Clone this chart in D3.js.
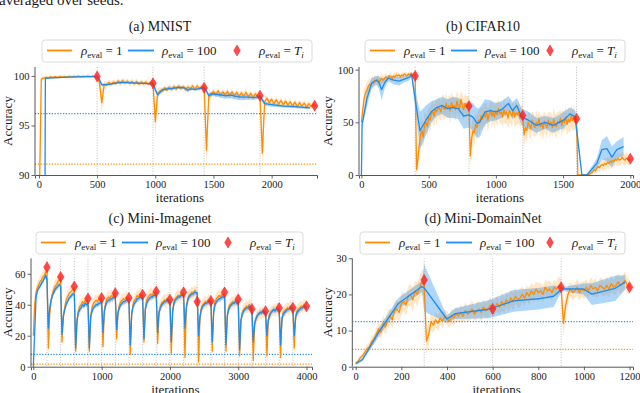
<!DOCTYPE html>
<html>
<head>
<meta charset="utf-8">
<script src="https://cdn.jsdelivr.net/npm/d3@7"></script>
<style>
body { margin: 0; background: #fff; }
</style>
</head>
<body>
<svg id="chart" width="640" height="393" font-family="Liberation Serif"></svg>
<script>
// ---------------- data ----------------

// (a) MNIST — rho_eval = 1 sampled every 20 iterations
const mnistStep = 20;
const mnistOrange = [85, 99.7,
  99.78, 99.86, 99.82, 99.9, 99.85, 99.92, 99.86, 99.94, 99.88, 99.93, 99.87, 99.95, 99.9, 99.96, 99.9, 99.97, 99.91, 99.96, 99.92, 99.98, 99.92, 99.97, 99.93,
  99.95,
  99.3, 97.3, 99.1,
  99.05, 99.35, 99.15, 99.4, 99.2, 99.5, 99.25, 99.55, 99.3, 99.5, 99.25, 99.45, 99.2, 99.45, 99.15, 99.4, 99.2, 99.4, 99.15, 99.35,
  99.3,
  95.4, 98.2, 98.5,
  98.45, 98.8, 98.55, 98.9, 98.6, 98.95, 98.65, 99.0, 98.7, 98.95, 98.6, 98.9, 98.7, 99.0, 98.65, 99.0, 98.7, 98.95,
  98.9,
  92.5, 98.0,
  98.0, 98.45, 98.1, 98.5, 98.05, 98.4, 98.1, 98.45, 98.0, 98.4, 97.95, 98.35, 97.9, 98.3, 97.95, 98.35, 97.9, 98.25, 97.85, 98.2, 97.9,
  98.0,
  92.2,
  97.4, 97.75, 97.3, 97.65, 97.2, 97.6, 97.15, 97.5, 97.1, 97.45, 97.05, 97.4, 96.95, 97.35, 96.9, 97.3, 96.95, 97.25, 96.85, 97.2, 96.9, 97.15, 96.95];
const mnistOrangeSd = [2, 0.4,
  0.15, 0.2, 0.15, 0.2, 0.15, 0.2, 0.15, 0.2, 0.15, 0.2, 0.15, 0.2, 0.15, 0.2, 0.15, 0.2, 0.15, 0.2, 0.15, 0.2, 0.15, 0.2, 0.15,
  0.2,
  0.6, 1.2, 0.4,
  0.3, 0.25, 0.3, 0.25, 0.3, 0.25, 0.3, 0.25, 0.3, 0.25, 0.3, 0.25, 0.3, 0.25, 0.3, 0.25, 0.3, 0.25, 0.3, 0.25,
  0.3,
  1.8, 0.6, 0.35,
  0.3, 0.25, 0.3, 0.25, 0.3, 0.25, 0.3, 0.25, 0.3, 0.25, 0.3, 0.25, 0.3, 0.25, 0.3, 0.25, 0.3, 0.25,
  0.3,
  2.0, 0.6,
  0.35, 0.3, 0.35, 0.3, 0.35, 0.3, 0.35, 0.3, 0.35, 0.3, 0.35, 0.3, 0.35, 0.3, 0.35, 0.3, 0.35, 0.3, 0.35, 0.3, 0.35,
  0.3,
  2.0,
  0.5, 0.35, 0.3, 0.35, 0.3, 0.35, 0.3, 0.35, 0.3, 0.35, 0.3, 0.35, 0.3, 0.35, 0.3, 0.35, 0.3, 0.35, 0.3, 0.35, 0.3, 0.35, 0.3];
// rho_eval = 100
const mnistBlueIt = [0, 50, 55, 100, 200, 300, 400, 500, 520, 540, 600, 700, 800, 900, 980,
  1000, 1020, 1060, 1100, 1150, 1200, 1250, 1280, 1300, 1350, 1400, 1430,
  1460, 1480, 1550, 1600, 1650, 1700, 1750, 1800, 1850, 1900, 1920, 1940, 2000, 2100, 2200, 2300, 2330];
const mnistBlue = [80, 80, 99.75, 99.8, 99.85, 99.9, 99.92, 99.93, 99.6, 99.1, 99.15, 99.35, 99.3, 99.25, 99.2,
  98.6, 98.1, 98.6, 98.7, 98.75, 98.85, 98.8, 98.55, 98.7, 98.65, 98.8, 98.7,
  98.0, 98.2, 98.1, 98.0, 98.05, 97.9, 97.85, 97.85, 97.8, 97.9, 97.6, 97.2, 97.1, 96.95, 96.9, 96.8, 96.8];
const mnistBlueSd = [0, 0, 0.08, 0.05, 0.05, 0.05, 0.05, 0.05, 0.2, 0.15, 0.12, 0.1, 0.1, 0.1, 0.1,
  0.3, 0.2, 0.2, 0.15, 0.15, 0.15, 0.15, 0.2, 0.15, 0.15, 0.15, 0.15,
  0.25, 0.2, 0.25, 0.3, 0.3, 0.3, 0.3, 0.25, 0.2, 0.2, 0.25, 0.2, 0.2, 0.15, 0.15, 0.15, 0.15];
const mnistTaskEnds = [500, 980, 1420, 1900, 2370];
const mnistTaskEval = [99.95, 99.25, 98.8, 98.0, 97.0];
const mnistBounds = [500, 980, 1420, 1900];
const mnistBaseBlue = 96.2, mnistBaseOrange = 91.1;

// (b) CIFAR10 — rho_eval = 1 sampled every 10 iterations
const cifarStep = 10;
const cifarOrange = [50, 62, 72, 78, 80, 84, 86, 85, 88, 87, 90, 89, 91, 88, 90, 92, 90, 91, 93, 92,
  92, 94, 93, 92, 94, 93, 95, 94, 95, 93, 95, 94, 96, 95, 94, 96, 95, 96, 95, 96, 95,
  5, 15, 28, 38, 42, 36, 48, 50, 46, 55, 52, 58, 60, 56, 62, 60, 64, 63, 60, 66,
  64, 62, 68, 63, 66, 61, 69, 64, 66, 62, 70, 65, 63, 72, 66, 62, 68, 64, 67, 65,
  18, 35, 42, 40, 48, 45, 52, 50, 56, 53, 58, 55, 60, 52, 57, 62, 56, 60, 55, 61,
  57, 63, 58, 60, 55, 62, 57, 60, 54, 61, 58, 56, 62, 55, 59, 57, 60, 54, 58, 56,
  38, 45, 42, 50, 47, 44, 52, 48, 45, 50, 47, 53, 46, 49, 44, 51, 48, 45, 52, 47,
  50, 45, 53, 48, 46, 51, 49, 54, 47, 52, 50, 55, 48, 53, 50, 56, 52, 55, 50, 53,
  0, 0, 0, 0, 0, 0, 0, 0.5, 0, 1, 2, 3, 5, 4, 6, 8, 7, 9, 10, 9,
  11, 10, 12, 11, 13, 12, 14, 13, 15, 14, 16, 14, 15, 17, 15, 14, 16, 15, 14, 15];
const cifarOrangeSd = [4, 8, 9, 7, 8, 6, 7, 5, 6, 5, 5, 4, 5, 4, 4, 5, 3, 4, 3, 4,
  3, 3, 4, 3, 3, 4, 2.5, 3, 2.5, 3, 2.5, 3, 2, 3, 2.5, 2, 3, 2, 2.5, 2, 3,
  6, 10, 12, 11, 13, 10, 12, 9, 11, 10, 12, 9, 11, 10, 8, 12, 9, 11, 8, 10,
  12, 9, 11, 8, 10, 13, 9, 11, 8, 12, 10, 9, 11, 8, 12, 10, 9, 11, 8, 10,
  10, 14, 12, 13, 11, 12, 10, 12, 9, 11, 10, 12, 9, 11, 10, 8, 12, 9, 11, 10,
  12, 9, 10, 11, 8, 12, 9, 11, 10, 12, 9, 11, 8, 10, 12, 9, 11, 10, 9, 10,
  12, 10, 11, 9, 12, 10, 8, 11, 9, 12, 10, 8, 11, 9, 12, 10, 9, 11, 8, 12,
  10, 9, 11, 10, 12, 9, 11, 8, 12, 10, 9, 11, 10, 12, 9, 11, 10, 12, 9, 10,
  1, 0.5, 0.5, 0.5, 0.5, 0.5, 0.5, 1, 0.5, 1, 1.5, 2, 3, 3, 4, 4, 5, 4, 5, 6,
  5, 6, 5, 6, 5, 6, 5, 6, 5, 6, 6, 5, 6, 5, 6, 5, 6, 5, 5, 6];
const cifarBlueIt = [0, 5, 40, 75, 110, 130, 150, 175, 200, 240, 280, 320, 360, 372,
  435, 480, 520, 560, 600, 640, 680, 720, 760, 800, 830, 860, 880, 920, 960, 1000,
  1043, 1093, 1125, 1155, 1192, 1242, 1304, 1366, 1428, 1470, 1503, 1552, 1590,
  1640, 1677, 1751, 1788, 1826, 1863, 1900, 1950];
const cifarBlue = [0, 48, 72, 87, 90, 88, 81, 88, 92, 90, 89, 91, 93, 96,
  42, 52, 60, 64, 66, 63, 64, 63, 56, 57, 55, 49, 50, 60, 61, 60,
  62, 68, 61, 66, 55, 52, 47, 50, 47, 50, 52, 58, 55,
  0, 0, 11, 24, 25, 17, 24, 27];
const cifarBlueSd = [0, 3, 8, 5, 4, 6, 10, 5, 3, 4, 4, 3, 3, 2,
  18, 14, 10, 8, 8, 9, 10, 10, 12, 12, 13, 14, 14, 12, 10, 8,
  8, 7, 8, 7, 8, 8, 7, 6, 7, 7, 8, 6, 6,
  1, 1, 5, 9, 12, 10, 8, 9];
const cifarTaskEnds = [400, 800, 1200, 1600, 2000];
const cifarTaskEval = [94, 65.5, 56.5, 53.5, 15.5];
const cifarBounds = [400, 800, 1200, 1600];

// (c) Mini-Imagenet — both curves sampled every 20 iterations
const imgStep = 20;
const imgOrange = [20,
  40, 48, 51, 53, 55, 56, 58, 59, 61, 62,
  12, 34, 42, 47, 50, 52, 53, 55, 56, 57,
  16, 32, 38, 43, 45, 47, 48, 49, 50, 51,
  10, 30, 36, 39, 40, 42, 41, 43, 42, 43,
  10, 33, 38, 41, 42, 43, 42, 44, 43, 44,
  13, 36, 41, 44, 45, 44, 46, 45, 47, 47,
  18, 35, 40, 42, 43, 44, 43, 45, 44, 44,
  8, 34, 40, 43, 44, 46, 45, 47, 46, 46,
  16, 38, 43, 45, 46, 47, 46, 48, 47, 48,
  15, 35, 39, 41, 42, 43, 42, 44, 43, 43,
  8, 36, 42, 44, 45, 46, 45, 47, 46, 47,
  6, 38, 44, 46, 47, 48, 47, 49, 48, 48,
  3, 32, 38, 40, 41, 42, 41, 43, 42, 43,
  10, 36, 42, 44, 45, 46, 45, 47, 46, 47,
  10, 33, 38, 40, 41, 42, 41, 43, 42, 43,
  7, 30, 35, 37, 38, 39, 38, 40, 39, 38,
  4, 27, 31, 33, 34, 35, 34, 36, 35, 36,
  7, 30, 34, 35, 36, 37, 36, 38, 37, 37,
  6, 31, 35, 36, 37, 38, 37, 39, 38, 38,
  12, 32, 36, 37, 38, 39, 38, 40, 39, 39];
const imgOrangeSd = [2,
  5, 4, 4, 3.5, 4, 3.5, 4, 3.5, 4, 4,
  7, 5, 4, 4, 3.5, 4, 4, 3.5, 4, 4,
  6, 5, 4, 3.5, 4, 3.5, 4, 4, 3.5, 4,
  7, 5, 4, 4, 3.5, 4, 3.5, 4, 4, 3.5,
  6, 5, 4, 3.5, 4, 4, 3.5, 4, 3.5, 4,
  7, 5, 4, 4, 3.5, 4, 4, 3.5, 4, 4,
  6, 5, 4, 3.5, 4, 3.5, 4, 4, 3.5, 4,
  7, 5, 4, 4, 3.5, 4, 3.5, 4, 4, 3.5,
  6, 5, 4, 3.5, 4, 4, 3.5, 4, 3.5, 4,
  7, 5, 4, 4, 3.5, 4, 4, 3.5, 4, 4,
  6, 5, 4, 3.5, 4, 3.5, 4, 4, 3.5, 4,
  7, 5, 4, 4, 3.5, 4, 3.5, 4, 4, 3.5,
  6, 5, 4, 3.5, 4, 4, 3.5, 4, 3.5, 4,
  7, 5, 4, 4, 3.5, 4, 4, 3.5, 4, 4,
  6, 5, 4, 3.5, 4, 3.5, 4, 4, 3.5, 4,
  7, 5, 4, 4, 3.5, 4, 3.5, 4, 4, 3.5,
  6, 5, 4, 3.5, 4, 4, 3.5, 4, 3.5, 4,
  7, 5, 4, 4, 3.5, 4, 4, 3.5, 4, 4,
  6, 5, 4, 3.5, 4, 3.5, 4, 4, 3.5, 4,
  7, 5, 4, 4, 3.5, 4, 3.5, 4, 4, 3.5];
const imgBlue = [0,
  22, 45, 49, 51, 52, 54, 55, 57, 59, 56,
  25, 38, 43, 46, 48, 50, 51, 52, 53, 52,
  21, 33, 37, 40, 42, 44, 45, 46, 47, 47,
  12, 30, 35, 37, 38, 40, 39, 41, 40, 41,
  12, 32, 36, 38, 39, 40, 40, 41, 41, 42,
  22, 36, 40, 42, 43, 43, 44, 44, 45, 45,
  24, 35, 38, 40, 41, 42, 42, 43, 43, 42,
  14, 34, 39, 41, 42, 44, 44, 45, 45, 44,
  18, 37, 41, 43, 44, 45, 45, 46, 46, 46,
  22, 35, 38, 40, 41, 42, 42, 43, 42, 42,
  16, 36, 41, 43, 44, 45, 45, 46, 46, 46,
  25, 38, 43, 45, 46, 47, 47, 48, 48, 47,
  20, 32, 37, 39, 40, 41, 41, 42, 42, 42,
  16, 35, 40, 42, 43, 44, 44, 45, 45, 45,
  14, 33, 37, 39, 40, 41, 41, 42, 41, 41,
  11, 30, 34, 36, 37, 38, 38, 39, 38, 37,
  16, 28, 31, 33, 34, 35, 35, 36, 35, 35,
  20, 30, 33, 35, 36, 37, 36, 37, 37, 37,
  14, 31, 34, 35, 36, 37, 37, 38, 38, 37,
  20, 32, 35, 36, 37, 38, 38, 39, 39, 38];
const imgBlueSd = [0,
  2, 2.5, 2, 1.5, 1.5, 1.5, 1.5, 1.5, 2, 2,
  4, 2.5, 2, 2, 1.5, 2, 1.5, 2, 1.5, 1.5,
  4, 2.5, 2, 2, 1.5, 2, 1.5, 2, 1.5, 1.5,
  4, 2.5, 2, 2, 1.5, 2, 1.5, 2, 1.5, 1.5,
  4, 2.5, 2, 2, 1.5, 2, 1.5, 2, 1.5, 1.5,
  4, 2.5, 2, 2, 1.5, 2, 1.5, 2, 1.5, 1.5,
  4, 2.5, 2, 2, 1.5, 2, 1.5, 2, 1.5, 1.5,
  4, 2.5, 2, 2, 1.5, 2, 1.5, 2, 1.5, 1.5,
  4, 2.5, 2, 2, 1.5, 2, 1.5, 2, 1.5, 1.5,
  4, 2.5, 2, 2, 1.5, 2, 1.5, 2, 1.5, 1.5,
  4, 2.5, 2, 2, 1.5, 2, 1.5, 2, 1.5, 1.5,
  4, 2.5, 2, 2, 1.5, 2, 1.5, 2, 1.5, 1.5,
  4, 2.5, 2, 2, 1.5, 2, 1.5, 2, 1.5, 1.5,
  4, 2.5, 2, 2, 1.5, 2, 1.5, 2, 1.5, 1.5,
  4, 2.5, 2, 2, 1.5, 2, 1.5, 2, 1.5, 1.5,
  4, 2.5, 2, 2, 1.5, 2, 1.5, 2, 1.5, 1.5,
  4, 2.5, 2, 2, 1.5, 2, 1.5, 2, 1.5, 1.5,
  4, 2.5, 2, 2, 1.5, 2, 1.5, 2, 1.5, 1.5,
  4, 2.5, 2, 2, 1.5, 2, 1.5, 2, 1.5, 1.5,
  4, 2.5, 2, 2, 1.5, 2, 1.5, 2, 1.5, 1.5];
const imgTaskEnds = [200, 400, 600, 800, 1000, 1200, 1400, 1600, 1800, 2000,
  2200, 2400, 2600, 2800, 3000, 3200, 3400, 3600, 3800, 4000];
const imgTaskEval = [64.3, 58, 51.8, 44, 44.4, 47.4, 44.4, 46.5, 48.5, 43.3,
  48, 42, 42.5, 48, 43.5, 37.3, 35.8, 37.9, 38, 39];
const imgBounds = [200, 400, 600, 800, 1000, 1200, 1400, 1600, 1800, 2000,
  2200, 2400, 2600, 2800, 3000, 3200, 3400, 3600, 3800];
const imgBaseBlue = 8.0, imgBaseOrange = 1.7;

// (d) Mini-DomainNet — rho_eval = 1 sampled every 10 iterations
const domStep = 10;
const domOrange = [1, 1.5, 2.5, 3, 4, 5, 5.5, 7, 7.5, 9, 10.5, 9.5, 12, 11, 13, 14, 13, 15.5, 16, 15,
  17.5, 18, 17, 19.5, 20, 18.5, 21, 20, 22, 23.5, 22.5,
  7, 9, 12.5, 11.5, 13, 12, 13.5, 12.5, 14, 13.5, 12.5, 14, 13.5, 14.5, 14, 15, 14, 15.5, 14.5, 15,
  16, 14.5, 15.5, 16, 15, 16.5, 15.5, 16, 17, 16,
  16.5, 17.5, 16.5, 18, 17, 18.5, 17.5, 19, 18, 19.5, 18.5, 19, 20, 19, 20.5, 19.5, 21, 20, 21.5, 20.5,
  21, 20, 22, 21, 21.5, 20.5, 22, 21.5, 22.5, 22,
  12, 17, 20, 21.5, 20.5, 21, 22, 20.5, 21.5, 21, 22, 21, 22.5, 21.5, 22, 21, 22.5, 22, 21.5, 22.5,
  21.5, 23, 22, 22.5, 23.5, 22.5, 23, 24, 22.5, 22];
const domOrangeSd = [0.3, 0.5, 0.6, 0.8, 1, 1.2, 1.2, 1.5, 1.5, 1.8, 2, 1.8, 2.2, 2, 2.5, 2.2, 2.5, 2.8, 2.5, 2.8,
  3, 2.6, 3, 2.8, 3, 3.2, 2.8, 3.4, 3, 3.5, 3,
  3.5, 3, 2.5, 2.2, 2, 2.2, 1.8, 2, 1.8, 2, 1.8, 2, 2.2, 2, 1.8, 2.2, 2, 2.4, 2, 2.2,
  2.5, 2, 2.4, 2.2, 2.5, 2.2, 2, 2.4, 2.2, 2,
  2, 2.2, 2, 2.5, 2.2, 2, 2.4, 2.2, 2.5, 2, 2.2, 2.6, 2.2, 2.4, 2, 2.5, 2.2, 2.4, 2, 2.6,
  2.2, 2.4, 2, 2.5, 2.2, 2.4, 2, 2.2, 2.5, 2.2,
  3.5, 3, 2.5, 2, 2.2, 2, 2.4, 2.2, 2, 2.5, 2.2, 2, 2.4, 2.2, 2.5, 2, 2.2, 2.4, 2, 2.5,
  2.2, 2.4, 2, 2.6, 2.2, 2.4, 2, 2.5, 2.2, 2];
const domBlueIt = [0, 30, 100, 187, 290, 300, 399, 436, 582, 691, 800, 867, 903, 998, 1035, 1137, 1181];
const domBlue = [0.8, 2, 9.5, 17.5, 22.2, 21.8, 13.2, 14.7, 15.9, 18.2, 18.8, 19.5, 21.5, 21.5, 20.1, 21.7, 23.4];
const domBlueSd = [0.3, 0.5, 1.2, 1.5, 1.5, 6.5, 1, 1.5, 2.5, 3, 3, 3, 0.5, 1.5, 3, 3.5, 2];
const domTaskEnds = [300, 600, 900, 1200];
const domTaskEval = [24, 16, 22, 22];
const domBounds = [300, 600, 900];
const domBaseBlue = 12.5, domBaseOrange = 4.8;

// ---------------- drawing ----------------
const ORANGE = "#ff8c00", BLUE = "#1e8cf0", RED = "#ff1e1e";
const TXT = "#1a1a1a", SPINE = "#555";
const FONT = "Liberation Serif";

const svg = d3.select("#chart");
svg.append("rect").attr("width", 640).attr("height", 393).attr("fill", "#fff");

svg.append("text")
    .attr("x", -1).attr("y", 5)
    .attr("font-family", FONT).attr("font-size", 15).attr("fill", TXT)
    .text("averaged over seeds.");

const diamond = "M0,-5.5L3.3,0L0,5.5L-3.3,0Z";

function rhoLabel(g, x, y, tail) {
  const t = g.append("text").attr("x", x).attr("y", y)
      .attr("font-family", FONT).attr("font-size", 13)
      .style("white-space", "pre").attr("fill", TXT);
  t.append("tspan").attr("font-style", "italic").text("ρ");
  t.append("tspan").attr("font-size", 9).attr("dy", 3).text("eval");
  if (tail === "T") {
    t.append("tspan").attr("dy", -3).text(" = ");
    t.append("tspan").attr("font-style", "italic").text("T");
    t.append("tspan").attr("font-style", "italic").attr("font-size", 9).attr("dy", 3).text("i");
  } else {
    t.append("tspan").attr("dy", -3).text(" = " + tail);
  }
}

function drawPanel(p) {
  const x = d3.scaleLinear().domain(p.xDomain).range([p.left, p.right]);
  const y = d3.scaleLinear().domain(p.yDomain).range([p.bottom, p.top]);
  const g = svg.append("g");

  svg.append("clipPath").attr("id", "clip-" + p.id)
    .append("rect")
      .attr("x", p.left).attr("y", p.top)
      .attr("width", p.right - p.left).attr("height", p.bottom - p.top);
  const plot = g.append("g").attr("clip-path", `url(#clip-${p.id})`);

  // task boundaries
  plot.selectAll("line.bound").data(p.bounds).join("line")
      .attr("class", "bound")
      .attr("x1", d => x(d)).attr("x2", d => x(d))
      .attr("y1", p.top).attr("y2", p.bottom)
      .attr("stroke", "#b5b5b5").attr("stroke-width", 0.9)
      .attr("stroke-dasharray", "1,1.6");

  const oPts = p.orange.map((v, i) => ({x: i * p.step, y: v, s: p.orangeSd[i]}));
  const bIt = p.blueIt || p.blue.map((v, i) => i * p.step);
  const bPts = p.blue.map((v, i) => ({x: bIt[i], y: v, s: p.blueSd[i]}));

  const band = d3.area().x(d => x(d.x)).y0(d => y(d.y - d.s)).y1(d => y(d.y + d.s));
  const line = d3.line().x(d => x(d.x)).y(d => y(d.y));

  plot.append("path").datum(oPts).attr("d", band)
      .attr("fill", ORANGE).attr("fill-opacity", 0.22);
  plot.append("path").datum(bPts).attr("d", band)
      .attr("fill", BLUE).attr("fill-opacity", 0.36);

  // horizontal reference levels
  if (p.baseBlue != null) {
    plot.append("line")
        .attr("x1", p.left).attr("x2", p.right)
        .attr("y1", y(p.baseBlue)).attr("y2", y(p.baseBlue))
        .attr("stroke", BLUE).attr("stroke-width", 1.2).attr("stroke-dasharray", "1.2,1.6");
    plot.append("line")
        .attr("x1", p.left).attr("x2", p.right)
        .attr("y1", y(p.baseOrange)).attr("y2", y(p.baseOrange))
        .attr("stroke", ORANGE).attr("stroke-width", 1.2).attr("stroke-dasharray", "1.2,1.6");
  }

  plot.append("path").datum(oPts).attr("d", line)
      .attr("fill", "none").attr("stroke", ORANGE).attr("stroke-width", 1.3)
      .attr("stroke-linejoin", "round");
  plot.append("path").datum(bPts).attr("d", line)
      .attr("fill", "none").attr("stroke", BLUE).attr("stroke-width", 1.3)
      .attr("stroke-linejoin", "round");

  // rho_eval = T_i markers
  g.selectAll("path.mark").data(p.taskEnds).join("path")
      .attr("class", "mark")
      .attr("d", diamond)
      .attr("transform", (d, i) => `translate(${x(d)},${y(p.taskEval[i])})`)
      .attr("fill", RED).attr("fill-opacity", 0.8)
      .attr("stroke", RED).attr("stroke-opacity", 0.5).attr("stroke-width", 1);

  // axes
  const fmt = d3.format("d");
  const xAxis = g.append("g")
      .attr("transform", `translate(0,${p.bottom})`)
      .call(d3.axisBottom(x).tickValues(p.xTicks).tickFormat(fmt)
        .tickSizeOuter(0).tickSize(3.5).tickPadding(2.5));
  const yAxis = g.append("g")
      .attr("transform", `translate(${p.left},0)`)
      .call(d3.axisLeft(y).tickValues(p.yTicks).tickFormat(fmt)
        .tickSizeOuter(0).tickSize(3.5).tickPadding(2));
  yAxis.select(".domain").attr("d", `M0,${p.bottom}V${p.top}`);
  for (const a of [xAxis, yAxis]) {
    a.attr("font-family", FONT).attr("font-size", 10.5);
    a.select(".domain").attr("stroke", SPINE).attr("stroke-width", 1);
    a.selectAll(".tick line").attr("stroke", SPINE).attr("stroke-width", 0.9);
    a.selectAll(".tick text").attr("fill", TXT);
  }

  g.append("text")
      .attr("x", p.titleX).attr("y", p.titleY)
      .attr("text-anchor", "middle")
      .attr("font-family", FONT).attr("font-size", 14).attr("fill", TXT)
      .text(p.title);

  g.append("text")
      .attr("transform", `translate(${p.yLabelX},${(p.top + p.bottom) / 2}) rotate(-90)`)
      .attr("text-anchor", "middle")
      .attr("font-family", FONT).attr("font-size", 13).attr("fill", TXT)
      .text("Accuracy");

  g.append("text")
      .attr("x", (p.left + p.right) / 2 + 4).attr("y", p.xLabelY)
      .attr("text-anchor", "middle")
      .attr("font-family", FONT).attr("font-size", 13).attr("fill", TXT)
      .text("iterations");

  // legend
  const lg = g.append("g").attr("transform", `translate(${p.legX},${p.legY})`);
  lg.append("rect")
      .attr("width", p.legW).attr("height", 22).attr("rx", 3)
      .attr("fill", "#fff").attr("fill-opacity", 0.85)
      .attr("stroke", "#d2d2d2").attr("stroke-width", 0.8);
  lg.append("line").attr("x1", 5).attr("x2", 30).attr("y1", 10.5).attr("y2", 10.5)
      .attr("stroke", ORANGE).attr("stroke-width", 1.8);
  rhoLabel(lg, 39, 14.5, "1");
  lg.append("line").attr("x1", 86).attr("x2", 112).attr("y1", 10.5).attr("y2", 10.5)
      .attr("stroke", BLUE).attr("stroke-width", 1.8);
  rhoLabel(lg, 120, 14.5, "100");
  lg.append("path").attr("d", diamond)
      .attr("transform", `translate(${p.legW - 75},10.5)`)
      .attr("fill", RED).attr("fill-opacity", 0.8)
      .attr("stroke", RED).attr("stroke-opacity", 0.5);
  rhoLabel(lg, p.legW - 53, 14.5, "T");
}

drawPanel({
  id: "a", title: "(a) MNIST", titleX: 160, titleY: 31,
  left: 35, right: 317, top: 67, bottom: 175,
  xDomain: [-34, 2390], yDomain: [90, 100.9],
  xTicks: [0, 500, 1000, 1500, 2000], yTicks: [90, 95, 100],
  step: mnistStep, orange: mnistOrange, orangeSd: mnistOrangeSd,
  blueIt: mnistBlueIt, blue: mnistBlue, blueSd: mnistBlueSd,
  taskEnds: mnistTaskEnds, taskEval: mnistTaskEval, bounds: mnistBounds,
  baseBlue: mnistBaseBlue, baseOrange: mnistBaseOrange,
  yLabelX: 12, xLabelY: 201.5,
  legX: 42, legY: 40, legW: 270
});

drawPanel({
  id: "b", title: "(b) CIFAR10", titleX: 483, titleY: 31,
  left: 359, right: 633, top: 67, bottom: 175,
  xDomain: [-18, 2020], yDomain: [0, 102.5],
  xTicks: [0, 500, 1000, 1500, 2000], yTicks: [0, 50, 100],
  step: cifarStep, orange: cifarOrange, orangeSd: cifarOrangeSd,
  blueIt: cifarBlueIt, blue: cifarBlue, blueSd: cifarBlueSd,
  taskEnds: cifarTaskEnds, taskEval: cifarTaskEval, bounds: cifarBounds,
  baseBlue: null,
  yLabelX: 331.5, xLabelY: 201.5,
  legX: 365, legY: 40, legW: 260
});

drawPanel({
  id: "c", title: "(c) Mini-Imagenet", titleX: 160, titleY: 223,
  left: 31, right: 312, top: 258.3, bottom: 366.7,
  xDomain: [-34, 4080], yDomain: [0, 70],
  xTicks: [0, 1000, 2000, 3000, 4000], yTicks: [0, 20, 40, 60],
  step: imgStep, orange: imgOrange, orangeSd: imgOrangeSd,
  blue: imgBlue, blueSd: imgBlueSd,
  taskEnds: imgTaskEnds, taskEval: imgTaskEval, bounds: imgBounds,
  baseBlue: imgBaseBlue, baseOrange: imgBaseOrange,
  yLabelX: 12, xLabelY: 393.5,
  legX: 36, legY: 232, legW: 267
});

drawPanel({
  id: "d", title: "(d) Mini-DomainNet", titleX: 483, titleY: 223,
  left: 352.3, right: 633, top: 258.3, bottom: 366.7,
  xDomain: [-15, 1215], yDomain: [0, 30],
  xTicks: [0, 200, 400, 600, 800, 1000, 1200], yTicks: [0, 10, 20, 30],
  step: domStep, orange: domOrange, orangeSd: domOrangeSd,
  blueIt: domBlueIt, blue: domBlue, blueSd: domBlueSd,
  taskEnds: domTaskEnds, taskEval: domTaskEval, bounds: domBounds,
  baseBlue: domBaseBlue, baseOrange: domBaseOrange,
  yLabelX: 331.5, xLabelY: 393.5,
  legX: 360, legY: 232, legW: 265
});
</script>
</body>
</html>
